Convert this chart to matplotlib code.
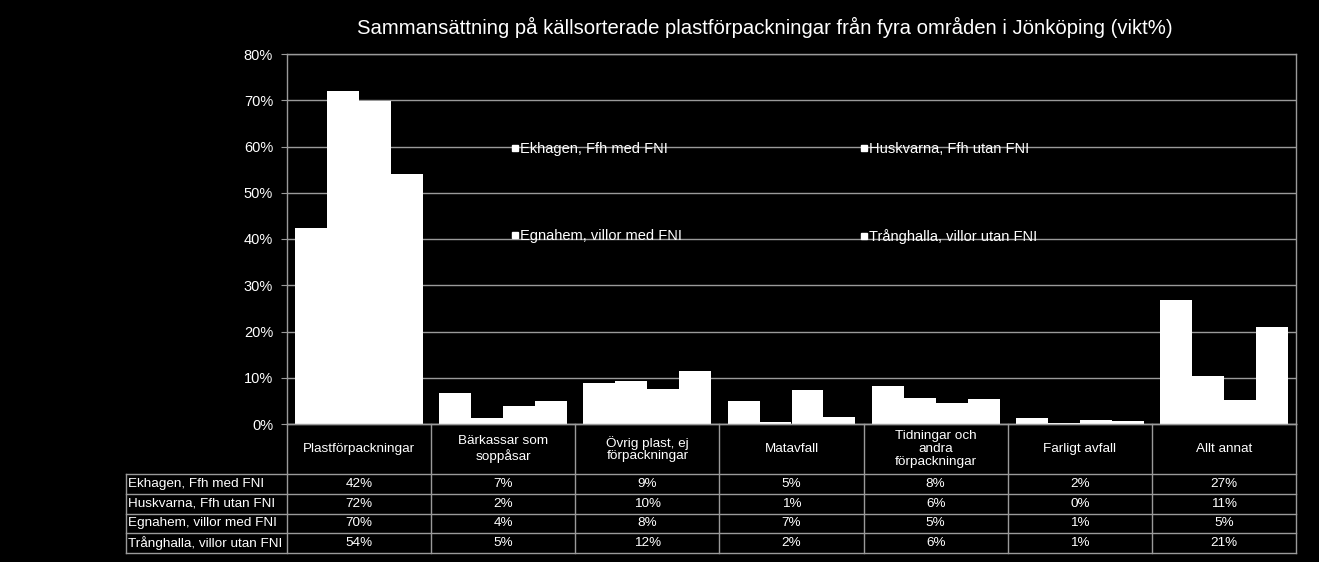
import matplotlib
matplotlib.use("Agg")
import matplotlib.pyplot as plt
from matplotlib.lines import Line2D
import numpy as np

plt.rcParams['font.family'] = ['Liberation Sans', 'DejaVu Sans']

title = "Sammansättning på källsorterade plastförpackningar från fyra områden i Jönköping (vikt%)"
categories = ["Plastförpackningar", "Bärkassar som\nsoppåsar", "Övrig plast, ej\nförpackningar",
              "Matavfall", "Tidningar och\nandra\nförpackningar", "Farligt avfall", "Allt annat"]
series = ["Ekhagen, Ffh med FNI", "Huskvarna, Ffh utan FNI",
          "Egnahem, villor med FNI", "Trånghalla, villor utan FNI"]
ekhagen = [42.4, 6.8, 8.9, 5.0, 8.3, 1.4, 26.9]
huskvarna = [71.9, 1.4, 9.4, 0.4, 5.7, 0.15, 10.4]
egnahem = [69.8, 4.0, 7.6, 7.4, 4.5, 0.9, 5.1]
tranghalla = [54.1, 5.0, 11.5, 1.6, 5.3, 0.65, 21.0]
values = [ekhagen, huskvarna, egnahem, tranghalla]
table_text = [
    ["42%", "7%", "9%", "5%", "8%", "2%", "27%"],
    ["72%", "2%", "10%", "1%", "6%", "0%", "11%"],
    ["70%", "4%", "8%", "7%", "5%", "1%", "5%"],
    ["54%", "5%", "12%", "2%", "6%", "1%", "21%"],
]
yticks = [0, 10, 20, 30, 40, 50, 60, 70, 80]

W, H = 1319, 562
fig = plt.figure(figsize=(W / 100, H / 100), dpi=100, facecolor='black')
grey = '#9a9a9a'

# main axes in pixel coords
ax_l, ax_r, ax_t, ax_b = 287, 1296, 54, 424
ax = fig.add_axes([ax_l / W, 1 - ax_b / H, (ax_r - ax_l) / W, (ax_b - ax_t) / H])
ax.set_facecolor('black')
n = len(categories)
x = np.arange(n)
bw = 0.222
for i, vals in enumerate(values):
    ax.bar(x + (i - 1.5) * bw, vals, width=bw, color='white', edgecolor='none', zorder=3,
           label=series[i])
ax.set_xlim(-0.5, n - 0.5)
ax.set_ylim(0, 80)
ax.set_yticks(yticks)
ax.set_yticklabels([f"{t}%" for t in yticks], color='white', fontsize=10.5)
ax.set_xticks([])
ax.tick_params(axis='y', length=4, color=grey, pad=6)
ax.yaxis.grid(True, color=grey, linewidth=1, zorder=0)
for s in ax.spines.values():
    s.set_color(grey)
    s.set_linewidth(1)

handles = [Line2D([], [], marker='s', linestyle='none', color='white', markersize=4.5)
           for _ in series]
order = [0, 2, 1, 3]
leg = ax.legend([handles[k] for k in order], [series[k] for k in order], ncol=2,
                loc='center', bbox_to_anchor=(0.4835, 0.624), frameon=False,
                fontsize=10.5, labelcolor='white', handlelength=0.4, handletextpad=0.15,
                columnspacing=12.3, labelspacing=5.05)
leg.set_zorder(5)

fig.text(765 / W, 1 - 27.5 / H, title, color='white', fontsize=14.6, ha='center', va='center')

# table axes
tl, tr, tt, tb = 126, 1296, 424, 553
tax = fig.add_axes([tl / W, 1 - tb / H, (tr - tl) / W, (tb - tt) / H])
tax.set_facecolor('black')
colw = (ax_r - ax_l) / n
xleft = -0.5 - (ax_l - tl) / colw
tax.set_xlim(xleft, n - 0.5)
tax.set_ylim(tb - tt, 0)
tax.axis('off')
header_h = 50
row_h = (tb - tt - header_h) / 4
lw = 1
for k in range(n + 1):
    tax.plot([k - 0.5, k - 0.5], [0, tb - tt], color=grey, lw=lw, clip_on=False)
tax.plot([xleft, xleft], [header_h, tb - tt], color=grey, lw=lw, clip_on=False)
for r in range(5):
    yy = header_h + r * row_h
    tax.plot([xleft, n - 0.5], [yy, yy], color=grey, lw=lw, clip_on=False)
tax.plot([-0.5, n - 0.5], [0, 0], color=grey, lw=lw, clip_on=False)
fs = 9.7
for k, c in enumerate(categories):
    tax.text(k, header_h / 2, c, color='white', fontsize=fs, ha='center', va='center',
             linespacing=1.1)
for r, s in enumerate(series):
    yc = header_h + (r + 0.5) * row_h
    tax.text(xleft + 0.012, yc, s, color='white', fontsize=fs, ha='left', va='center')
    for k in range(n):
        tax.text(k, yc, table_text[r][k], color='white', fontsize=fs, ha='center', va='center')

fig.savefig('out.png', dpi=100, facecolor='black')
